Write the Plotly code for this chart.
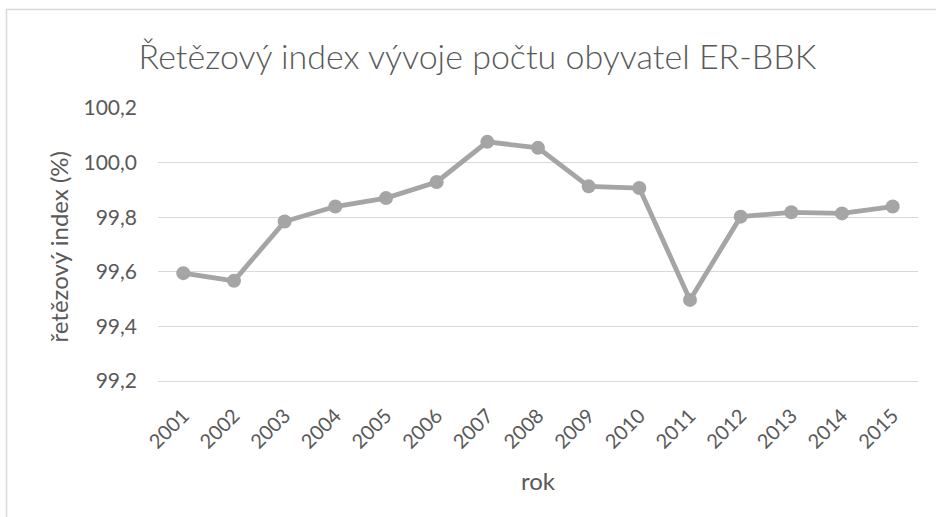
import plotly.graph_objects as go

years = ["2001", "2002", "2003", "2004", "2005", "2006", "2007", "2008",
         "2009", "2010", "2011", "2012", "2013", "2014", "2015"]
index_values = [99.595, 99.567, 99.784, 99.839, 99.870, 99.929, 100.076, 100.054,
                99.913, 99.907, 99.497, 99.802, 99.818, 99.814, 99.839]
y_ticks = [99.2, 99.4, 99.6, 99.8, 100.0, 100.2]
y_tick_labels = ["99,2", "99,4", "99,6", "99,8", "100,0", "100,2"]

title_text = "Řetězový index vývoje počtu obyvatel ER-BBK"
x_title = "rok"
y_title = "řetězový index (%)"

FONT = "Lato"
TXT = "#595959"
GRID = "#D9D9D9"
LINE = "#A5A5A5"

W, H = 936, 517
L, R, T, B = 158, 18, 108, 136
pw = W - L - R
ph = H - T - B

def px_x(p):
    return (p - L) / pw

def px_y(p):
    return (H - B - p) / ph

fig = go.Figure()
fig.add_trace(go.Scatter(
    x=years, y=index_values, mode="lines+markers",
    line=dict(color=LINE, width=4.8),
    marker=dict(color=LINE, size=14),
    hoverinfo="x+y", showlegend=False,
))

fig.update_layout(
    width=W, height=H,
    margin=dict(l=L, r=R, t=T, b=B, autoexpand=False),
    paper_bgcolor="white", plot_bgcolor="white",
    font=dict(family=FONT, color=TXT, size=21),
    title=dict(text=title_text, x=477.5 / W, xanchor="center",
               y=1 - 57 / H, yanchor="middle",
               font=dict(family=FONT, size=34, color=TXT, weight=300)),
    xaxis=dict(type="category", range=[-0.5, len(years) - 0.5],
               showgrid=False, zeroline=False,
               showline=True, linecolor=GRID, linewidth=1.3,
               tickangle=-45, tickfont=dict(size=20, color=TXT),
               ticks="", ticklabelstandoff=14),
    yaxis=dict(range=[99.2, 100.2], tickvals=y_ticks, ticktext=y_tick_labels,
               showgrid=True, gridcolor=GRID, gridwidth=1.3, zeroline=False,
               showline=False, ticks="", ticklabelstandoff=20,
               tickfont=dict(size=21, color=TXT)),
    annotations=[
        dict(text=x_title, xref="paper", yref="paper", x=0.5, y=px_y(480),
             xanchor="center", yanchor="middle", showarrow=False,
             font=dict(family=FONT, size=24, color=TXT)),
        dict(text=y_title, xref="paper", yref="paper", x=px_x(58), y=px_y(246.5),
             xanchor="center", yanchor="middle", textangle=-90, showarrow=False,
             font=dict(family=FONT, size=24, color=TXT)),
    ],
    shapes=[
        dict(type="line", xref="paper", yref="paper", x0=px_x(6), x1=px_x(940),
             y0=px_y(9.5), y1=px_y(9.5), line=dict(color=GRID, width=1.5)),
        dict(type="line", xref="paper", yref="paper", x0=px_x(6.5), x1=px_x(6.5),
             y0=px_y(9.5), y1=px_y(520), line=dict(color=GRID, width=1.5)),
    ],
)

fig.write_html("out.html", config={"displayModeBar": False},
               post_script="document.body.style.margin='0';document.body.style.overflow='hidden';")
